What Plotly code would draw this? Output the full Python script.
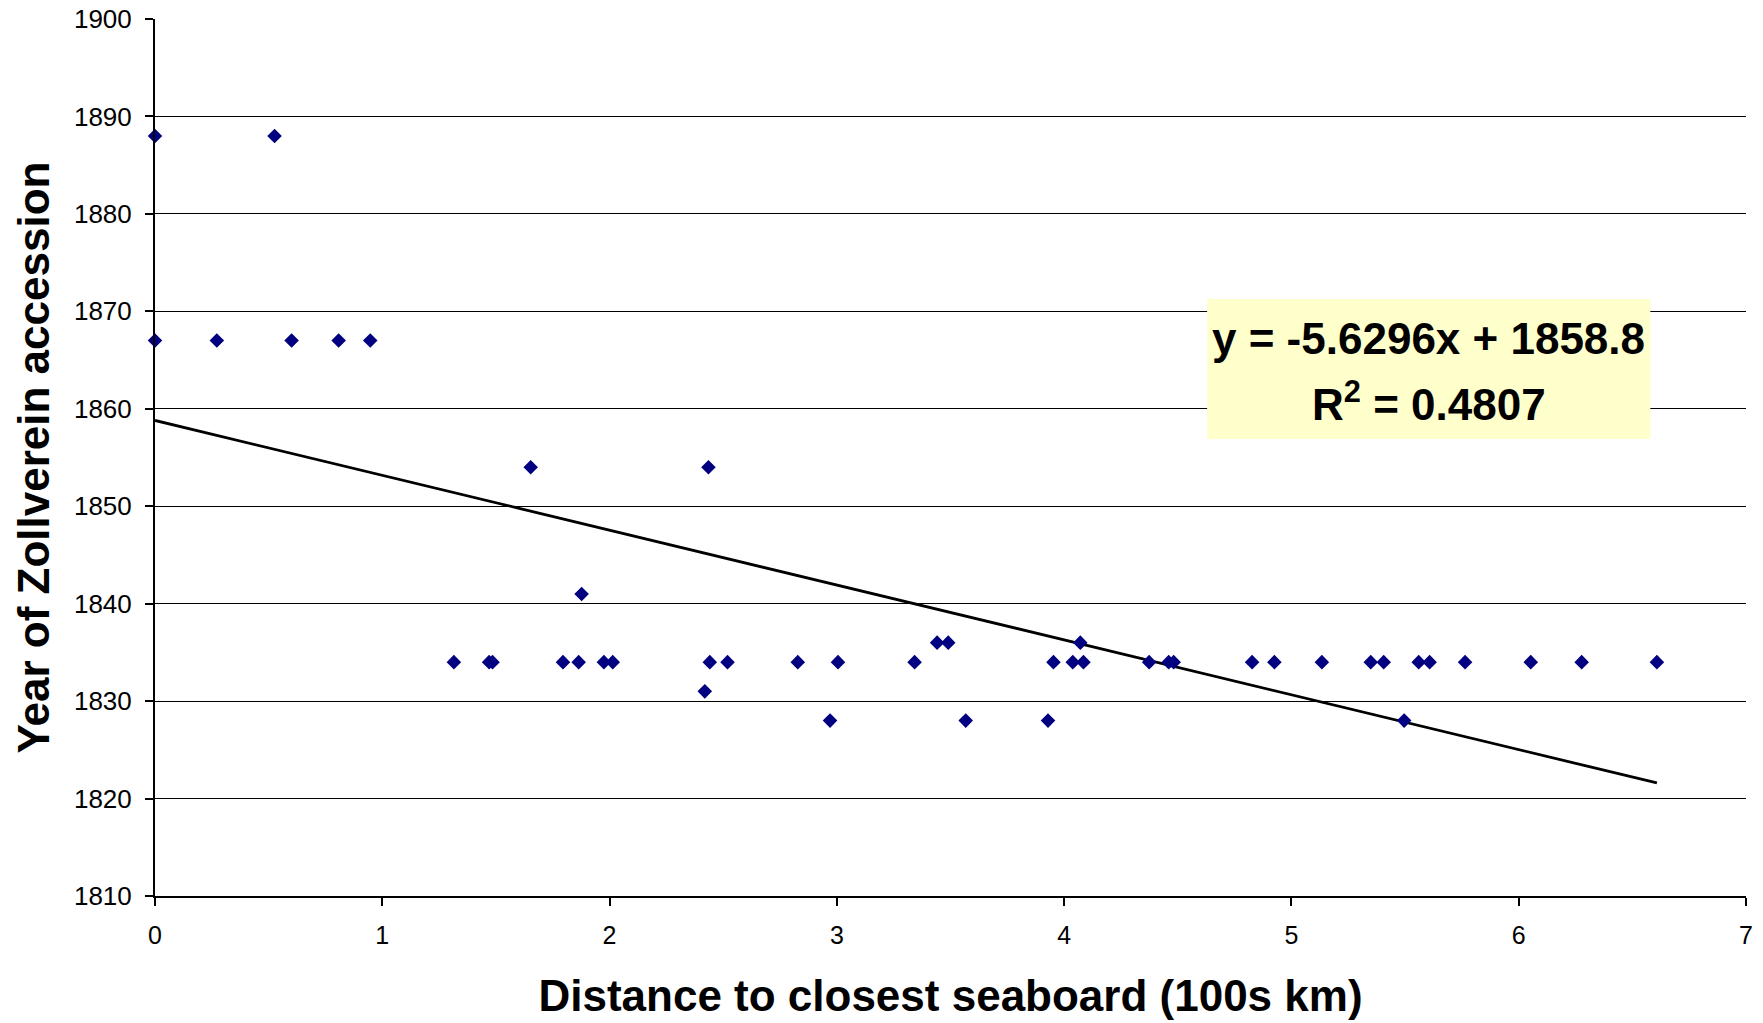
import plotly.graph_objects as go

# Data
distance = [0.0, 0.526,
            0.0, 0.272, 0.601, 0.808, 0.947,
            1.653, 2.435,
            1.877,
            3.441, 3.490, 4.071,
            1.315, 1.470, 1.485, 1.795, 1.864, 1.975, 2.014, 2.441, 2.519, 2.828,
            3.005, 3.342, 3.953, 4.038, 4.085, 4.374, 4.460, 4.482, 4.827, 4.925,
            5.134, 5.349, 5.406, 5.560, 5.608, 5.764, 6.053, 6.277, 6.608,
            2.419,
            2.970, 3.567, 3.929, 5.496]
year = [1888, 1888,
        1867, 1867, 1867, 1867, 1867,
        1854, 1854,
        1841,
        1836, 1836, 1836,
        1834, 1834, 1834, 1834, 1834, 1834, 1834, 1834, 1834, 1834,
        1834, 1834, 1834, 1834, 1834, 1834, 1834, 1834, 1834, 1834,
        1834, 1834, 1834, 1834, 1834, 1834, 1834, 1834, 1834,
        1831,
        1828, 1828, 1828, 1828]

slope = -5.6296
intercept = 1858.8
r_squared = 0.4807

x_ticks = [0, 1, 2, 3, 4, 5, 6, 7]
y_ticks = [1810, 1820, 1830, 1840, 1850, 1860, 1870, 1880, 1890, 1900]

trend_x = [0.0, max(distance)]
trend_y = [slope * v + intercept for v in trend_x]

FONT = "Liberation Sans, Arial, sans-serif"

fig = go.Figure()
fig.add_trace(go.Scatter(
    x=trend_x, y=trend_y, mode="lines",
    line=dict(color="black", width=2.8),
    hoverinfo="skip", showlegend=False, cliponaxis=False,
))
fig.add_trace(go.Scatter(
    x=distance, y=year, mode="markers",
    marker=dict(symbol="diamond", size=11.2, color="#000080", line=dict(width=0)),
    showlegend=False, cliponaxis=False,
))

# Trendline label box
fig.add_shape(type="rect", xref="x", yref="y",
              x0=4.629, x1=6.579, y0=1856.9, y1=1871.26,
              fillcolor="#FFFFCC", line=dict(width=0), layer="above")
fig.add_annotation(
    x=5.604, y=1867.2, xref="x", yref="y", yanchor="middle",
    text=f"<b>y = {slope}x + {intercept}</b>",
    showarrow=False, font=dict(family=FONT, size=44, color="black"),
)
fig.add_annotation(
    x=5.604, y=1860.7, xref="x", yref="y", yanchor="middle",
    text=f"<b>R<sup>2</sup> = {r_squared}</b>",
    showarrow=False, font=dict(family=FONT, size=44, color="black"),
)

fig.update_layout(
    width=1763, height=1023,
    margin=dict(l=155, r=17, t=19, b=127, autoexpand=False),
    paper_bgcolor="white", plot_bgcolor="white",
    font=dict(family=FONT, color="black"),
)
fig.update_xaxes(
    range=[0, 7], tickvals=x_ticks, ticktext=[str(v) for v in x_ticks],
    showgrid=False, zeroline=False,
    showline=True, linecolor="black", linewidth=2,
    ticks="outside", ticklen=8, tickwidth=1.5, tickcolor="black",
    tickfont=dict(family=FONT, size=25, color="black"),
    ticklabelstandoff=8,
    title=dict(text="<b>Distance to closest seaboard (100s km)</b>",
               font=dict(family=FONT, size=44, color="black"), standoff=32),
    automargin=False,
)
fig.update_yaxes(
    range=[1810, 1900], tickvals=y_ticks, ticktext=[str(v) for v in y_ticks],
    showgrid=True, gridcolor="black", gridwidth=1, zeroline=False,
    showline=True, linecolor="black", linewidth=2,
    ticks="outside", ticklen=8, tickwidth=1.5, tickcolor="black",
    tickfont=dict(family=FONT, size=26, color="black"),
    ticklabelstandoff=8,
    title=dict(text="<b>Year of Zollverein accession</b>",
               font=dict(family=FONT, size=44, color="black"), standoff=11),
    automargin=False,
)

fig.write_html("out.html", config={"displayModeBar": False},
               post_script="document.body.style.margin='0';")
